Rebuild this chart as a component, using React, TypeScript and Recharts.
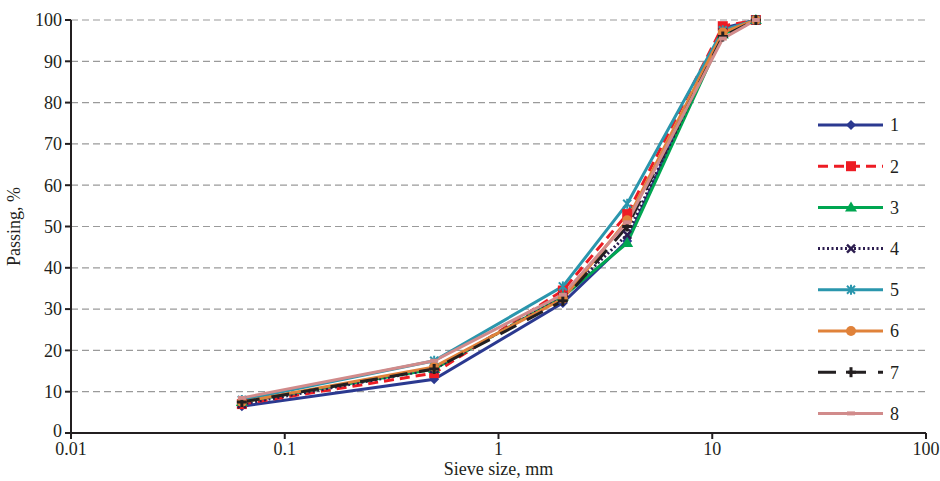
import React from 'react';
import { LineChart, Line, XAxis, YAxis, CartesianGrid } from 'recharts';

const sieveSizes = [0.063, 0.5, 2, 4, 11.2, 16];
const series1 = [6.5, 13, 31.5, 46.5, 98, 100];
const series2 = [7, 14.5, 34.5, 53, 98.5, 100];
const series3 = [7.5, 15.5, 33, 46, 96.5, 100];
const series4 = [7, 15.5, 33, 48, 97, 100];
const series5 = [8, 17.5, 35.5, 55.5, 97.5, 100];
const series6 = [7.5, 16, 32.5, 51.5, 97, 100];
const series7 = [7.5, 15.5, 32, 50, 96, 100];
const series8 = [8.5, 17.5, 33.5, 51, 95.5, 100];
const seriesNames = ['1', '2', '3', '4', '5', '6', '7', '8'];
const xTicks = [0.01, 0.1, 1, 10, 100];
const yTicks = [0, 10, 20, 30, 40, 50, 60, 70, 80, 90, 100];

const allSeries = [series1, series2, series3, series4, series5, series6, series7, series8];

const styles = [
  { color: '#2b3990', dash: undefined, marker: 'diamond' },
  { color: '#ed1c24', dash: '10 6', marker: 'square' },
  { color: '#00a651', dash: undefined, marker: 'triangle' },
  { color: '#2c1d4f', dash: '2 2.5', marker: 'x' },
  { color: '#2a96ad', dash: undefined, marker: 'star' },
  { color: '#e0823a', dash: undefined, marker: 'circle' },
  { color: '#231f20', dash: '18 12', marker: 'plus' },
  { color: '#d18b8b', dash: undefined, marker: 'dash' },
];

const data = sieveSizes.map((s, i) => {
  const row: any = { size: s };
  allSeries.forEach((arr, k) => {
    row['s' + (k + 1)] = arr[i];
  });
  return row;
});

const FONT = '"Liberation Serif", "DejaVu Serif", serif';

function Marker({ kind, cx, cy, color }: { kind: string; cx: number; cy: number; color: string }) {
  if (cx == null || cy == null) return null;
  switch (kind) {
    case 'diamond':
      return <polygon points={`${cx},${cy - 5} ${cx + 5},${cy} ${cx},${cy + 5} ${cx - 5},${cy}`} fill={color} />;
    case 'square':
      return <rect x={cx - 5} y={cy - 5} width={10} height={10} fill={color} />;
    case 'triangle':
      return <polygon points={`${cx},${cy - 6} ${cx + 6},${cy + 4} ${cx - 6},${cy + 4}`} fill={color} />;
    case 'x':
      return (
        <g stroke={color} strokeWidth={2.5}>
          <line x1={cx - 4} y1={cy - 4} x2={cx + 4} y2={cy + 4} />
          <line x1={cx - 4} y1={cy + 4} x2={cx + 4} y2={cy - 4} />
        </g>
      );
    case 'star':
      return (
        <g stroke={color} strokeWidth={2}>
          <line x1={cx - 4} y1={cy - 4} x2={cx + 4} y2={cy + 4} />
          <line x1={cx - 4} y1={cy + 4} x2={cx + 4} y2={cy - 4} />
          <line x1={cx} y1={cy - 5} x2={cx} y2={cy + 5} />
        </g>
      );
    case 'circle':
      return <circle cx={cx} cy={cy} r={5} fill={color} />;
    case 'plus':
      return (
        <g stroke={color} strokeWidth={3}>
          <line x1={cx - 5} y1={cy} x2={cx + 5} y2={cy} />
          <line x1={cx} y1={cy - 5} x2={cx} y2={cy + 5} />
        </g>
      );
    case 'dash':
      return <rect x={cx - 4} y={cy - 2} width={8} height={4} fill={color} />;
    default:
      return null;
  }
}

function YTick(props: any) {
  const { x, y, payload } = props;
  const shift = payload.value === 0 ? -2 : 0;
  return (
    <text x={x} y={y + shift} dy="0.35em" textAnchor="end" fontSize={18} fontFamily={FONT} fill="#231f20">
      {payload.value}
    </text>
  );
}

function LegendBox() {
  const spacing = 41.2;
  return (
    <svg width={120} height={330} style={{ position: 'absolute', left: 810, top: 115, overflow: 'visible' }}>
      {seriesNames.map((name, i) => {
        const st = styles[i];
        const y = 10 + i * spacing;
        return (
          <g key={name}>
            <line x1={8} y1={y} x2={73} y2={y} stroke={st.color} strokeWidth={3} strokeDasharray={st.dash} />
            <Marker kind={st.marker} cx={41} cy={y} color={st.color} />
            <text x={80} y={y} dy="0.35em" fontSize={18} fontFamily={FONT} fill="#231f20">
              {name}
            </text>
          </g>
        );
      })}
    </svg>
  );
}

export default function App() {
  return (
    <div style={{ position: 'absolute', left: 0, top: 0, width: 940, height: 481, background: '#fff' }}>
      <LineChart width={940} height={481} data={data} margin={{ top: 20, right: 14, left: 0, bottom: 0 }}>
        <CartesianGrid vertical={false} stroke="#9a9a9a" strokeDasharray="7 4" strokeWidth={1.2} />
        <XAxis
          dataKey="size"
          type="number"
          scale="log"
          domain={[0.01, 100]}
          ticks={xTicks}
          allowDataOverflow
          tickFormatter={(v: number) => String(v)}
          height={48}
          stroke="#231f20"
          strokeWidth={2}
          tickSize={6}
          tickMargin={3}
          tick={{ fill: '#231f20', fontSize: 18, fontFamily: FONT }}
          label={{ value: 'Sieve size, mm', position: 'insideBottom', offset: 6, fill: '#231f20', fontSize: 18, fontFamily: FONT }}
        />
        <YAxis
          type="number"
          domain={[0, 100]}
          ticks={yTicks}
          width={71}
          stroke="#231f20"
          strokeWidth={2}
          tickSize={6}
          tickMargin={3}
          tick={<YTick />}
          label={{ value: 'Passing,  %', angle: -90, position: 'insideLeft', offset: 14, fill: '#231f20', fontSize: 18, fontFamily: FONT, style: { textAnchor: 'middle' } }}
        />
        {styles.map((st, i) => (
          <Line
            key={i}
            type="linear"
            dataKey={'s' + (i + 1)}
            name={seriesNames[i]}
            stroke={st.color}
            strokeWidth={3}
            strokeDasharray={st.dash}
            isAnimationActive={false}
            dot={(p: any) => <Marker key={`m${i}-${p.index}`} kind={st.marker} cx={p.cx} cy={p.cy} color={st.color} />}
            activeDot={false}
          />
        ))}
      </LineChart>
      <LegendBox />
    </div>
  );
}
